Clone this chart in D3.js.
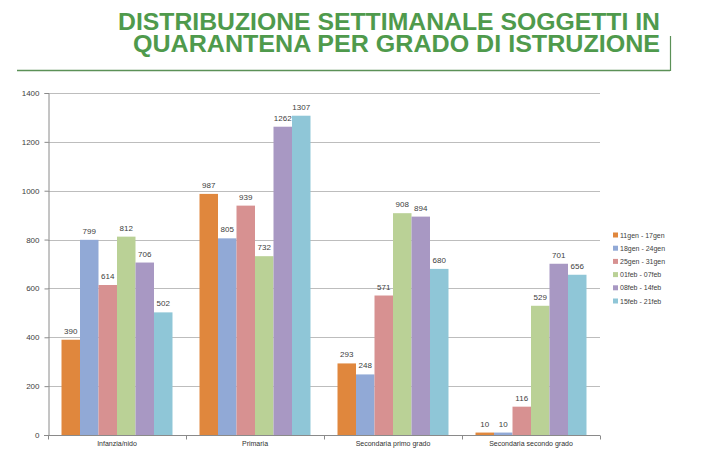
<!DOCTYPE html>
<html><head><meta charset="utf-8">
<script src="https://cdn.jsdelivr.net/npm/d3@7"></script>
<style>body{margin:0;background:#fff}svg{display:block}</style>
</head><body>
<svg id="c" width="707" height="463"></svg>
<script>
const categories = ["Infanzia/nido", "Primaria", "Secondaria primo grado", "Secondaria secondo grado"];
const seriesNames = ["11gen - 17gen", "18gen - 24gen", "25gen - 31gen", "01feb - 07feb", "08feb - 14feb", "15feb - 21feb"];
const s1 = [390, 987, 293, 10];
const s2 = [799, 805, 248, 10];
const s3 = [614, 939, 571, 116];
const s4 = [812, 732, 908, 529];
const s5 = [706, 1262, 894, 701];
const s6 = [502, 1307, 680, 656];
const seriesValues = [s1, s2, s3, s4, s5, s6];
const yTicks = [0, 200, 400, 600, 800, 1000, 1200, 1400];
const colors = ["#e0873d", "#91a9d6", "#d79191", "#bad196", "#a898c3", "#8fc6d7"];
const titleLines = ["DISTRIBUZIONE SETTIMANALE SOGGETTI IN", "QUARANTENA PER GRADO DI ISTRUZIONE"];

const svg = d3.select("#c");
const green = "#4f9a4c";

// Title (one text element, two lines)
const title = svg.append("text").attr("text-anchor", "end")
  .attr("font-family", "Liberation Sans, Arial, sans-serif").attr("font-weight", "bold")
  .attr("font-size", 24).attr("fill", green);
title.append("tspan").attr("x", 660).attr("y", 30)
  .attr("textLength", 542).attr("lengthAdjust", "spacingAndGlyphs").text(titleLines[0]);
title.append("tspan").attr("x", 660).attr("y", 52)
  .attr("textLength", 527).attr("lengthAdjust", "spacingAndGlyphs").text(titleLines[1]);
svg.append("line").attr("x1", 17).attr("x2", 670).attr("y1", 70.5).attr("y2", 70.5)
  .attr("stroke", "#5b9157").attr("stroke-width", 1.5);
svg.append("line").attr("x1", 670.5).attr("x2", 670.5).attr("y1", 36).attr("y2", 71)
  .attr("stroke", "#5b9157").attr("stroke-width", 1.2);

// Scales
const pLeft = 48, pRight = 600, pTop = 93, pBottom = 435;
const y = d3.scaleLinear().domain([0, 1400]).range([pBottom, pTop]);
const x0 = d3.scaleBand().domain(categories).range([pLeft, pRight]).padding(0);
const x1 = d3.scaleBand().domain(d3.range(seriesNames.length)).range([0, x0.bandwidth()])
  .paddingInner(0).paddingOuter(0.73);

// gridlines
svg.append("g").selectAll("line").data(yTicks.slice(1)).join("line")
  .attr("x1", pLeft).attr("x2", pRight)
  .attr("y1", d => Math.round(y(d)) + 0.5).attr("y2", d => Math.round(y(d)) + 0.5)
  .attr("stroke", "#bdbdbd").attr("stroke-width", 1);

// Y axis
const yAxis = svg.append("g").attr("transform", `translate(${pLeft + 0.5},0)`)
  .call(d3.axisLeft(y).tickValues(yTicks).tickFormat(d3.format("d")).tickSize(4).tickPadding(5));
yAxis.select(".domain").attr("stroke", "#8a8a8a");
yAxis.selectAll(".tick line").attr("stroke", "#8a8a8a");
yAxis.selectAll("text").attr("font-family", "Liberation Sans, Arial, sans-serif")
  .attr("font-size", 8).attr("fill", "#404040");

// Bars
const groups = svg.append("g").selectAll("g").data(categories).join("g")
  .attr("transform", d => `translate(${x0(d)},0)`);
groups.each(function(cat, ci) {
  const g = d3.select(this);
  seriesValues.forEach((vals, si) => {
    const v = vals[ci];
    g.append("rect").attr("x", x1(si)).attr("width", x1.bandwidth())
      .attr("y", y(v)).attr("height", pBottom - y(v)).attr("fill", colors[si]);
    g.append("text").attr("x", x1(si) + x1.bandwidth() / 2).attr("y", y(v) - 6)
      .attr("text-anchor", "middle").attr("font-family", "Liberation Sans, Arial, sans-serif")
      .attr("font-size", 8).attr("fill", "#404040").text(v);
  });
});

// X axis
const xAxisG = svg.append("g").attr("transform", `translate(0,${pBottom + 0.5})`);
xAxisG.append("line").attr("x1", pLeft - 4).attr("x2", pRight).attr("stroke", "#8a8a8a");
const boundaries = categories.map(c => x0(c)).concat([pRight]);
xAxisG.selectAll("line.t").data(boundaries).join("line").attr("class", "t")
  .attr("x1", d => Math.round(d) + 0.5).attr("x2", d => Math.round(d) + 0.5)
  .attr("y1", 0).attr("y2", 4).attr("stroke", "#8a8a8a");
xAxisG.selectAll("text").data(categories).join("text")
  .attr("x", d => x0(d) + x0.bandwidth() / 2).attr("y", 10)
  .attr("text-anchor", "middle").attr("font-family", "Liberation Sans, Arial, sans-serif")
  .attr("font-size", 7).attr("fill", "#303030").text(d => d);

// Legend
const lg = svg.append("g").attr("transform", "translate(613,235)");
seriesNames.forEach((n, i) => {
  lg.append("rect").attr("x", 0).attr("y", i * 13.2 - 2.5).attr("width", 5).attr("height", 5)
    .attr("fill", colors[i]);
  lg.append("text").attr("x", 7).attr("y", i * 13.2 + 2.5)
    .attr("font-family", "Liberation Sans, Arial, sans-serif").attr("font-size", 7)
    .attr("fill", "#404040").text(n);
});
</script>
</body></html>
